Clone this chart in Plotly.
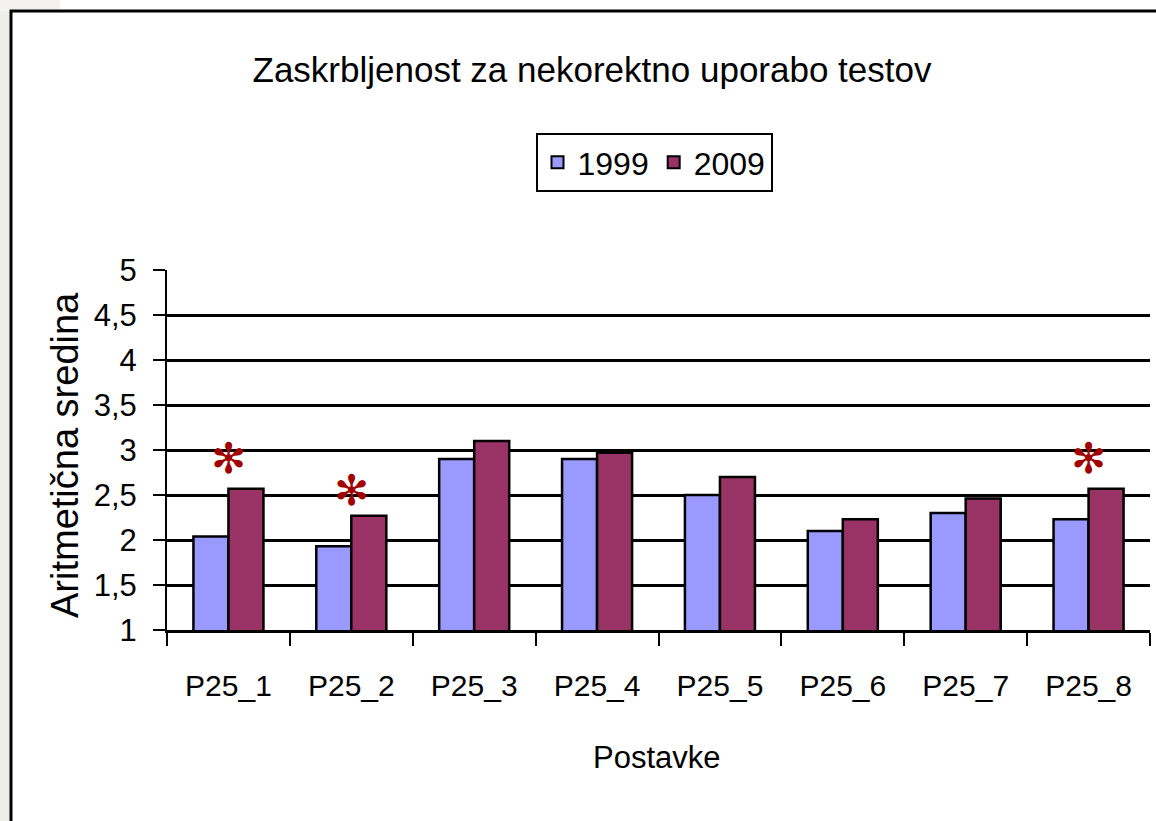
import plotly.graph_objects as go

categories = ["P25_1", "P25_2", "P25_3", "P25_4", "P25_5", "P25_6", "P25_7", "P25_8"]
values_1999 = [2.04, 1.93, 2.90, 2.90, 2.50, 2.10, 2.30, 2.23]
values_2009 = [2.57, 2.27, 3.10, 2.97, 2.70, 2.23, 2.46, 2.57]
star_categories = ["P25_1", "P25_2", "P25_8"]
star_levels = [2.91, 2.545, 2.91]
y_ticks = [1, 1.5, 2, 2.5, 3, 3.5, 4, 4.5, 5]

FONT = "Liberation Sans, Arial, sans-serif"

W, H = 1156, 821
L, R, T, B = 167, 6, 270, 191
pw = W - L - R
ph = H - T - B

def px(xpix):
    return (xpix - L) / pw

def py(ypix):
    return (H - B - ypix) / ph

fig = go.Figure()
fig.add_trace(go.Bar(x=categories, y=values_1999, name="1999",
                     marker=dict(color="#9999FF", line=dict(color="black", width=2.5))))
fig.add_trace(go.Bar(x=categories, y=values_2009, name="2009",
                     marker=dict(color="#993366", line=dict(color="black", width=2.5))))

shapes = [
    dict(type="rect", xref="paper", yref="paper", x0=px(-5), x1=px(11), y0=py(H + 5), y1=py(-5),
         fillcolor="#efeeea", line=dict(width=0), layer="below"),
    dict(type="rect", xref="paper", yref="paper", x0=px(-5), x1=px(60), y0=py(11), y1=py(-5),
         fillcolor="#f3f2ef", line=dict(width=0), layer="below"),
    dict(type="rect", xref="paper", yref="paper", x0=px(11), x1=px(W + 20), y0=py(H + 20), y1=py(11),
         fillcolor="white", line=dict(color="black", width=3), layer="below"),
]

annotations = [
    dict(text="Aritmetična sredina", textangle=-90, xref="paper", yref="paper",
         x=px(65), y=py(455), xanchor="center", yanchor="middle", showarrow=False,
         font=dict(family=FONT, size=38, color="black")),
    dict(text="Postavke", xref="paper", yref="paper", x=px(657), y=py(757),
         xanchor="center", yanchor="middle", showarrow=False,
         font=dict(family=FONT, size=31, color="black")),
]
for c, lvl in zip(star_categories, star_levels):
    annotations.append(dict(text="✻", x=c, y=lvl, xref="x", yref="y", showarrow=False,
                            font=dict(family="DejaVu Sans", size=42, color="#A00000"),
                            xanchor="center", yanchor="middle"))

fig.update_layout(
    width=W, height=H,
    margin=dict(l=L, r=R, t=T, b=B, pad=0, autoexpand=False),
    paper_bgcolor="white", plot_bgcolor="rgba(0,0,0,0)",
    separators=",.",
    barmode="group", bargap=0.43, bargroupgap=0,
    title=dict(text="Zaskrbljenost za nekorektno uporabo testov", x=592 / W, y=1 - 70 / H,
               xanchor="center", yanchor="middle",
               font=dict(family=FONT, size=35, color="black")),
    legend=dict(orientation="h", x=px(654), y=py(133), xanchor="center", yanchor="top",
                bgcolor="white", bordercolor="black", borderwidth=2,
                font=dict(family=FONT, size=32, color="black"),
                itemsizing="constant", traceorder="normal"),
    shapes=shapes,
    annotations=annotations,
    xaxis=dict(showline=True, linecolor="black", linewidth=3, ticks="outside", tickson="boundaries",
               ticklen=13, tickwidth=2, tickcolor="black", showgrid=False, automargin=False,
               tickfont=dict(family=FONT, size=30, color="black"), ticklabelstandoff=27),
    yaxis=dict(range=[1, 5], tickvals=y_ticks, showline=True, linecolor="black", linewidth=2,
               ticks="outside", ticklen=12, tickwidth=2, tickcolor="black", automargin=False,
               showgrid=True, gridcolor="black", gridwidth=2.5, zeroline=False,
               tickfont=dict(family=FONT, size=31, color="black"), ticklabelstandoff=10),
)

fig.write_html("out.html", config={"displayModeBar": False},
               post_script="document.body.style.margin='0';document.body.style.overflow='hidden';")
